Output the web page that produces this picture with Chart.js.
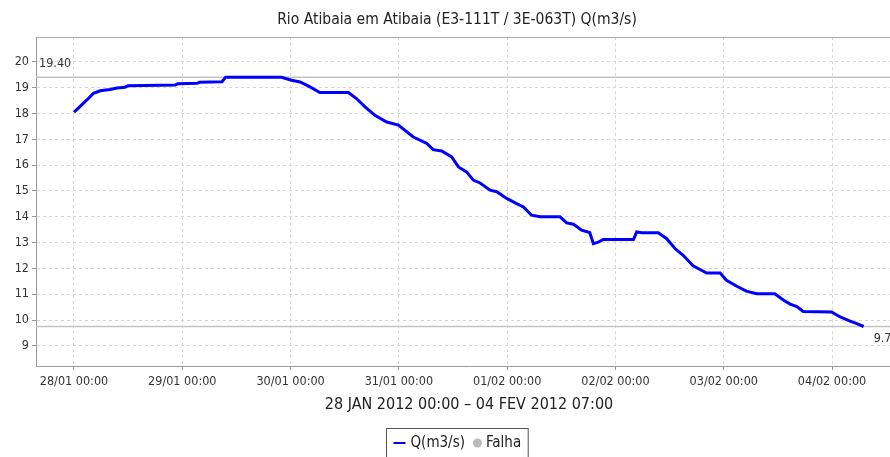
<!DOCTYPE html>
<html>
<head>
<meta charset="utf-8">
<script src="https://cdn.jsdelivr.net/npm/chart.js@4.4.1/dist/chart.umd.min.js"></script>
<style>
  html, body { margin: 0; padding: 0; background: #fff; overflow: hidden; }
</style>
</head>
<body>
<canvas id="ch-vazao" width="914" height="470"></canvas>
<script>
// ── Dados ────────────────────────────────────────────────────────────────────
const TITULO  = 'Rio Atibaia em Atibaia (E3-111T / 3E-063T) Q(m3/s)';
const PERIODO = '28 JAN 2012 00:00 – 04 FEV 2012 07:00';

// horas desde 28/01 00:00
const HORAS = [
  0, 1.2, 2.4, 3.3, 4.3, 5.8, 8, 9.5, 11.3, 12.0, 22.4, 23.0, 27.3, 27.8, 32.8, 33.6,
  46.0, 48.2, 50.1, 52.3, 54.5, 60.8, 62.6, 64.5, 66.7, 69.3, 71.9, 75.2, 78.2, 79.6,
  81.5, 83.7, 85.2, 87.0, 88.5, 90.0, 92.2, 93.7, 95.9, 98.1, 99.6, 101.4, 103.3, 107.7,
  109.2, 110.7, 112.5, 114.3, 115.1, 116.2, 117.3, 124.0, 124.7, 125.8, 129.5, 131.3,
  133.2, 135.0, 137.2, 140.2, 143.2, 144.6, 146.9, 149.0, 151.3, 155.3, 157.2, 158.7,
  160.2, 161.6, 167.9, 169.8, 172.0, 173.5, 175.0,
];
const VAZAO = [
  18.05, 18.25, 18.45, 18.60, 18.78, 18.88, 18.93, 18.99, 19.02, 19.08, 19.10, 19.15, 19.17, 19.21, 19.23, 19.40,
  19.40, 19.29, 19.22, 19.03, 18.81, 18.81, 18.58, 18.26, 17.93, 17.67, 17.55, 17.09, 16.84, 16.60,
  16.55, 16.32, 15.93, 15.74, 15.42, 15.31, 15.03, 14.97, 14.71, 14.51, 14.38, 14.06, 14.00, 14.00,
  13.76, 13.71, 13.48, 13.39, 12.96, 13.02, 13.12, 13.12, 13.41, 13.38, 13.38, 13.16,
  12.77, 12.51, 12.10, 11.82, 11.82, 11.54, 11.31, 11.12, 11.02, 11.02, 10.78, 10.62,
  10.52, 10.33, 10.31, 10.12, 9.96, 9.86, 9.75,
];
const FALHAS = []; // sem falhas no período

const TICKS_X   = [0, 24, 48, 72, 96, 120, 144, 168];
const ROTULOS_X = ['28/01 00:00', '29/01 00:00', '30/01 00:00', '31/01 00:00',
                   '01/02 00:00', '02/02 00:00', '03/02 00:00', '04/02 00:00'];
const TICKS_Y   = [9, 10, 11, 12, 13, 14, 15, 16, 17, 18, 19, 20];

const X_MIN = -8.42, X_MAX = 183.5;
const Y_MIN = 8.22,  Y_MAX = 20.96;

const FONTE = "'DejaVu Sans Condensed', 'Liberation Sans Narrow', 'DejaVu Sans', sans-serif";
Chart.defaults.font.family = FONTE;

const Q_MAX = Math.max(...VAZAO);
const Q_MIN = Math.min(...VAZAO);

// ── Plugins ──────────────────────────────────────────────────────────────────
// borda superior da área + linhas de máximo / mínimo
const linhasRef = {
  id: 'linhasRef',
  beforeDatasetsDraw(chart) {
    const { ctx, chartArea: a, scales: { x, y } } = chart;
    ctx.save();
    ctx.strokeStyle = '#aaaaaa';
    ctx.lineWidth = 1;
    ctx.beginPath();
    ctx.moveTo(a.left, a.top + 0.5);
    ctx.lineTo(a.right, a.top + 0.5);
    ctx.stroke();

    ctx.strokeStyle = '#c4c4c4';
    ctx.lineWidth = 1.5;
    [Q_MAX, Q_MIN].forEach(v => {
      const py = y.getPixelForValue(v);
      ctx.beginPath();
      ctx.moveTo(a.left, py);
      ctx.lineTo(a.right, py);
      ctx.stroke();
    });

    ctx.fillStyle = '#333';
    ctx.font = '12.5px ' + FONTE;
    ctx.textBaseline = 'middle';
    ctx.textAlign = 'left';
    ctx.fillText(Q_MAX.toFixed(2), a.left + 3, y.getPixelForValue(Q_MAX) - 14);
    ctx.fillText(Q_MIN.toFixed(2), x.getPixelForValue(HORAS[HORAS.length - 1]) + 10,
                 y.getPixelForValue(Q_MIN) + 12);
    ctx.restore();
  },
};

// legenda com moldura
const legendaCaixa = {
  id: 'legendaCaixa',
  afterDraw(chart) {
    const { ctx } = chart;
    const ds = chart.data.datasets;
    ctx.save();
    ctx.font = '15px ' + FONTE;
    const w1 = ctx.measureText(ds[0].label).width;
    const w2 = ctx.measureText(ds[1].label).width;
    const inner = 12 + 5 + w1 + 8 + 9 + 4 + w2;
    const bx = Math.round(chart.width / 2 - inner / 2 - 7) + 0.5;
    const by = 428.5;
    const cy = 443;

    ctx.strokeStyle = '#555';
    ctx.lineWidth = 1;
    ctx.strokeRect(bx, by, inner + 14, 40);

    let cx = bx + 7;
    ctx.strokeStyle = ds[0].borderColor;
    ctx.lineWidth = 2;
    ctx.beginPath();
    ctx.moveTo(cx, cy);
    ctx.lineTo(cx + 12, cy);
    ctx.stroke();
    cx += 17;

    ctx.fillStyle = '#222';
    ctx.textBaseline = 'middle';
    ctx.fillText(ds[0].label, cx, cy);
    cx += w1 + 8;

    ctx.fillStyle = ds[1].backgroundColor;
    ctx.beginPath();
    ctx.arc(cx + 4.5, cy, 4.5, 0, Math.PI * 2);
    ctx.fill();
    cx += 13;

    ctx.fillStyle = '#222';
    ctx.fillText(ds[1].label, cx, cy);
    ctx.restore();
  },
};

// ── Gráfico ──────────────────────────────────────────────────────────────────
new Chart(document.getElementById('ch-vazao'), {
  type: 'line',
  data: {
    datasets: [
      {
        label: 'Q(m3/s)',
        data: HORAS.map((h, i) => ({ x: h, y: VAZAO[i] })),
        borderColor: '#0000ff',
        borderWidth: 3,
        pointRadius: 0,
        tension: 0,
        fill: false,
      },
      {
        label: 'Falha',
        data: FALHAS,
        borderColor: '#bbbbbb',
        backgroundColor: '#bbbbbb',
        pointRadius: 4,
        showLine: false,
      },
    ],
  },
  options: {
    responsive: false,
    animation: false,
    layout: { padding: { left: 12, right: 12, top: 0, bottom: 42 } },
    plugins: {
      legend: { display: false },
      tooltip: { enabled: false },
      title: {
        display: true,
        text: TITULO,
        color: '#222',
        font: { size: 15.5, weight: 'normal' },
        padding: { top: 10.5, bottom: 8 },
      },
    },
    scales: {
      x: {
        type: 'linear',
        min: X_MIN,
        max: X_MAX,
        afterBuildTicks: s => { s.ticks = TICKS_X.map(v => ({ value: v })); },
        afterFit: s => { s.height = 62; },
        ticks: {
          callback: (v, i) => ROTULOS_X[i],
          color: '#333',
          font: { size: 12.5 },
          padding: 4,
          maxRotation: 0,
          autoSkip: false,
        },
        grid: { color: '#d6d6d6', tickColor: '#999', tickLength: 4 },
        border: { color: '#999', dash: [3, 3] },
        title: {
          display: true,
          text: PERIODO,
          color: '#222',
          font: { size: 16 },
          padding: { top: 2, bottom: 14 },
        },
      },
      y: {
        min: Y_MIN,
        max: Y_MAX,
        afterBuildTicks: s => { s.ticks = TICKS_Y.map(v => ({ value: v })); },
        afterFit: s => { s.width = 24; },
        ticks: { color: '#333', font: { size: 12.5 }, padding: 3 },
        grid: { color: '#d6d6d6', tickColor: '#999', tickLength: 4 },
        border: { color: '#999', dash: [3, 3] },
      },
    },
  },
  plugins: [linhasRef, legendaCaixa],
});
</script>
</body>
</html>
